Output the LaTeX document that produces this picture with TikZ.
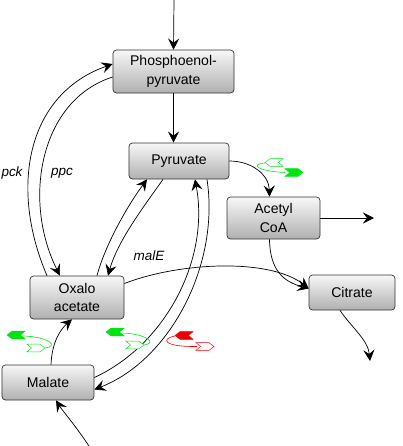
\documentclass[tikz,border=0pt]{standalone}
\usepackage{fontspec}
\setmainfont{Liberation Sans}
\usetikzlibrary{arrows.meta,calc}
\definecolor{actgreen}{RGB}{0,228,20}
\definecolor{inhred}{RGB}{236,0,0}
\tikzset{
	metab/.style={draw=black!80, line width=0.6pt, rounded corners=3pt, top color=gray!6, bottom color=gray!62, align=center, inner sep=0pt, font=\fontsize{12}{16}\selectfont},
	flux/.style={line width=0.6pt, -{Stealth[length=9.5pt,width=9.5pt,inset=3.5pt]}},
	enz/.style={font=\itshape\fontsize{11.5}{13}\selectfont},
	regline/.style={line width=0.5pt},
	pics/regflag/.style={code={\path[pic actions] (0,0) -- (5,-3.8) -- (18,-3.8) -- (13.5,0) -- (18,3.8) -- (5,3.8) -- cycle;}}
}
\begin{document}
\begin{tikzpicture}[x=0.03cm, y=-0.03cm]
	\useasboundingbox (0,0) rectangle (403,446);
	% metabolites
	\node[metab, minimum width=3.63cm, minimum height=1.29cm] (pep) at (173.5,71.5) {Phosphoenol-\\pyruvate};
	\node[metab, minimum width=3.0cm, minimum height=1.08cm] (pyr) at (179,161) {Pyruvate};
	\node[metab, minimum width=2.79cm, minimum height=1.26cm] (acoa) at (273.5,218) {Acetyl\\CoA};
	\node[metab, minimum width=2.58cm, minimum height=1.05cm] (cit) at (352,292.5) {Citrate};
	\node[metab, minimum width=2.82cm, minimum height=1.29cm] (oxa) at (77,297.5) {Oxalo\\acetate};
	\node[metab, minimum width=2.76cm, minimum height=1.05cm] (mal) at (48,382.5) {Malate};
	\coordinate (pepin) at (174,0);
	\coordinate (acoaout) at (374,218);
	\coordinate (citout) at (370,361);
	\coordinate (malin) at (89,446);
	% fluxes
	\draw[flux] (pepin) -- (pep.north);
	\draw[flux] (pep.south) -- (pep.south |- pyr.north);
	\draw[flux] (pyr.east) .. controls (252,161) and (269,175) .. ($(acoa.north)+(-4,0)$);
	\draw[flux] (acoa.east) -- (acoaout);
	\draw[flux] ($(acoa.south)+(-4,0)$) .. controls (270,272) and (285,282) .. ($(cit.west)+(0,-4)$);
	\draw[flux] ($(oxa.east)+(0,-14)$) .. controls (180,262) and (270,258) .. ($(cit.west)+(0,-4)$);
	\draw[flux] ($(cit.south)+(-12,0)$) .. controls (352,328) and (368,340) .. (citout);
	\draw[flux] ($(mal.north)+(3,0)$) .. controls (52,340) and (62,328) .. ($(oxa.south)+(-5,0)$);
	\draw[flux] (malin) .. controls (75,425) and (62,410) .. ($(mal.south)+(8,0)$);
	% pck / ppc
	\draw[flux] ($(oxa.north)+(-30,0)$) .. controls (10,190) and (25,95) .. ($(pep.west)+(0,-7.5)$);
	\draw[flux] ($(pep.west)+(0,5.5)$) .. controls (40,100) and (22,200) .. ($(oxa.north)+(-17,0)$);
	% oxaloacetate <-> pyruvate
	\draw[flux] ($(oxa.north)+(20,0)$) .. controls (105,245) and (128,205) .. ($(pyr.south)+(-32,0)$);
	\draw[flux] ($(pyr.south)+(-16,0)$) .. controls (145,205) and (118,240) .. ($(oxa.north)+(31,0)$);
	% malate <-> pyruvate
	\draw[flux] ($(mal.east)+(0,-5)$) .. controls (165,345) and (210,260) .. ($(pyr.south)+(16,0)$);
	\draw[flux] ($(pyr.south)+(28,0)$) .. controls (220,265) and (170,360) .. ($(mal.east)+(0,7)$);
	% enzymes
	\node[enz] (pck) at (12,173) {pck};
	\node[enz] (ppc) at (62,173) {ppc};
	\node[enz] (male) at (149,256) {malE};
	% regulation
	\pic[fill=actgreen, draw=actgreen] at (7,335) {regflag};
	\pic[fill=white, draw=actgreen, xscale=-1] at (45,348) {regflag};
	\draw[regline, actgreen] (24,336) .. controls (48,337) and (60,346) .. (45,348);
	\pic[fill=actgreen, draw=actgreen] at (106,332) {regflag};
	\pic[fill=white, draw=actgreen, xscale=-1] at (144,345) {regflag};
	\draw[regline, actgreen] (123,333) .. controls (146,334) and (158,343) .. (144,345);
	\pic[fill=inhred, draw=inhred] at (175,335.5) {regflag};
	\pic[fill=white, draw=inhred, xscale=-1] at (214,346.5) {regflag};
	\draw[regline, inhred] (175,336) .. controls (160,339) and (164,347) .. (197,346.5);
	\pic[fill=white, draw=actgreen] at (265,162.5) {regflag};
	\pic[fill=actgreen, draw=actgreen, xscale=-1] at (303,172.5) {regflag};
	\draw[regline, actgreen] (265,163) .. controls (250,164) and (256,171) .. (285,172.5);
\end{tikzpicture}
\end{document}
